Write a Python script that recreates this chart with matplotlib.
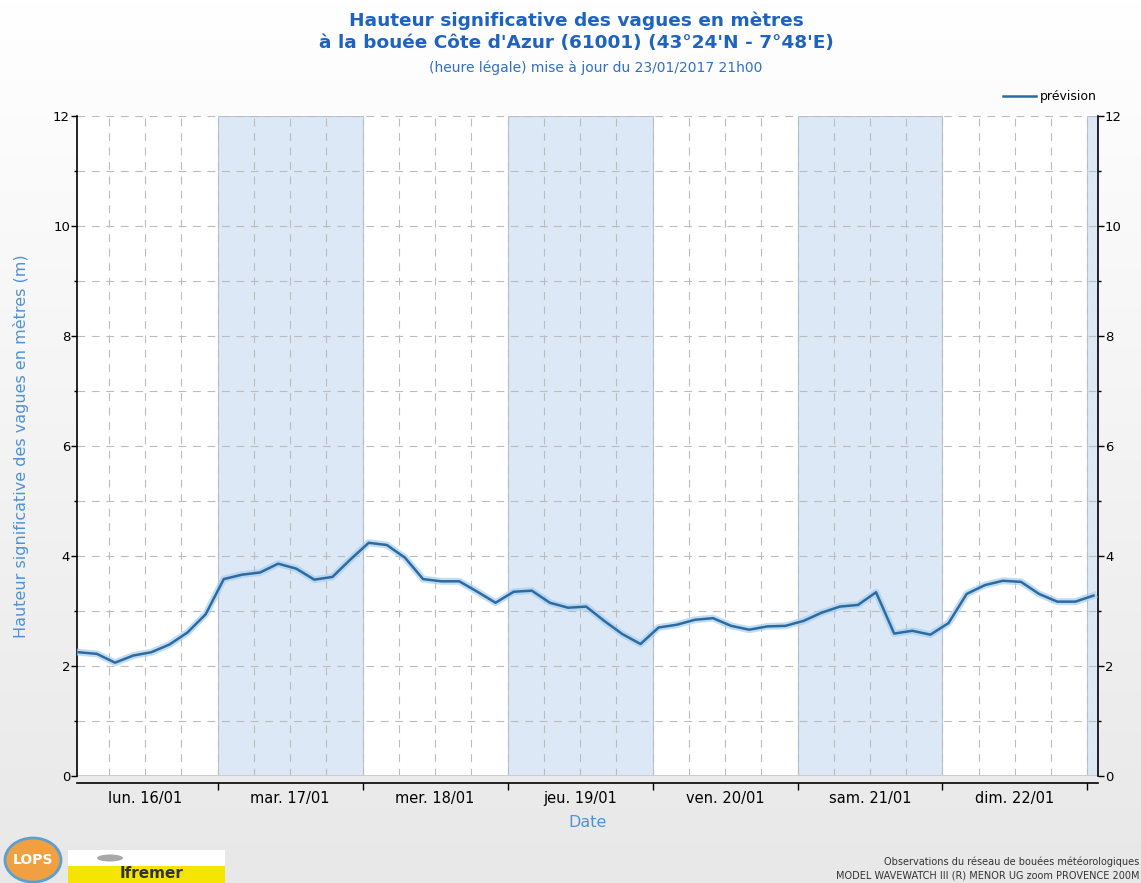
import numpy as np
import matplotlib
matplotlib.use("Agg")
import matplotlib.pyplot as plt
from matplotlib.patches import Rectangle, Ellipse
from datetime import datetime, timedelta

# Hauteur significative (m), une valeur toutes les 3 heures depuis le 16/01 01h00
hauteurs = [2.25, 2.22, 2.06, 2.19, 2.25, 2.39, 2.61, 2.94,
            3.58, 3.66, 3.70, 3.86, 3.77, 3.57, 3.62, 3.94,
            4.24, 4.20, 3.97, 3.58, 3.54, 3.54, 3.35, 3.15,
            3.35, 3.37, 3.15, 3.06, 3.08, 2.82, 2.58, 2.40,
            2.70, 2.75, 2.84, 2.87, 2.73, 2.66, 2.72, 2.73,
            2.82, 2.97, 3.08, 3.11, 3.34, 2.59, 2.64, 2.57,
            2.78, 3.31, 3.47, 3.55, 3.53, 3.31, 3.17, 3.17,
            3.28]
debut = datetime(2017, 1, 16, 1)
dates = [debut + timedelta(hours=3 * k) for k in range(len(hauteurs))]

jours = ["lun. 16/01", "mar. 17/01", "mer. 18/01", "jeu. 19/01",
         "ven. 20/01", "sam. 21/01", "dim. 22/01"]
jours_grises = [17, 19, 21, 23]

titre = "Hauteur significative des vagues en mètres\nà la bouée Côte d'Azur (61001) (43°24'N - 7°48'E)"
sous_titre = "(heure légale) mise à jour du 23/01/2017 21h00"

W, H = 1141, 883
fig = plt.figure(figsize=(W / 100, H / 100), dpi=100)

# fond en degrade blanc -> gris
bg = fig.add_axes([0, 0, 1, 1], zorder=-10)
grad = np.linspace(1.0, 0.91, 256).reshape(-1, 1)
bg.imshow(np.dstack([grad, grad, grad]), aspect="auto", extent=[0, 1, 0, 1])
bg.set_xlim(0, 1)
bg.set_ylim(0, 1)
bg.axis("off")

def fx(px):
    return px / W

def fy(py):
    return 1 - py / H

ax = fig.add_axes([fx(77), fy(776), fx(1098) - fx(77), fy(116) - fy(776)])
ax.set_facecolor("white")

x0 = datetime(2017, 1, 16, 0, 42)
x1 = datetime(2017, 1, 23, 1, 45)
ax.set_xlim(x0, x1)
ax.set_ylim(0, 12)

# bandes un jour sur deux
for j in jours_grises:
    d = datetime(2017, 1, j)
    ax.axvspan(d, min(d + timedelta(days=1), x1), facecolor="#dce8f6",
               edgecolor="#b4c4d8", lw=0.8, zorder=0)

# grille pointillee
grid_kw = dict(color="#bcbcbc", lw=0.8, dashes=(7, 6), zorder=1)
for v in range(1, 13):
    ax.axhline(v, **grid_kw)
t = datetime(2017, 1, 16, 6)
while t < x1:
    ax.axvline(t, **grid_kw)
    t += timedelta(hours=6)
ax.axhline(0, color="#cccccc", lw=1.4, zorder=2)

# courbe avec halo
ax.plot(dates, hauteurs, color="#a6cff0", lw=5, alpha=0.7,
        solid_joinstyle="round", zorder=3, label="_nolegend_")
ax.plot(dates, hauteurs, color="#2d6aa0", lw=1.8, zorder=4, label="prévision")

# axes
ax.spines["top"].set_visible(False)
ax.spines["bottom"].set_position(("outward", 5))
for s in ("bottom", "left", "right"):
    ax.spines[s].set_linewidth(1.2)

ax.set_yticks(range(0, 13, 2))
ax.set_yticks(range(1, 13, 2), minor=True)
ax.tick_params(axis="y", which="major", direction="out", length=4, width=1,
               left=True, right=True, labelleft=True, labelright=True,
               labelsize=9.5, pad=1)
ax.tick_params(axis="y", which="minor", direction="out", length=2, width=1,
               left=True, right=True)

noons = [datetime(2017, 1, 16 + k, 12) for k in range(len(jours))]
minuits = [datetime(2017, 1, 17 + k) for k in range(7)]
ax.set_xticks(noons)
ax.set_xticklabels(jours)
ax.set_xticks(minuits, minor=True)
ax.tick_params(axis="x", which="major", length=0, labelsize=10.5, pad=6)
ax.tick_params(axis="x", which="minor", direction="out", length=5, width=1)

ax.set_ylabel("Hauteur significative des vagues en mètres (m)", color="#4f92d6",
              fontsize=11.5, labelpad=17)
ax.set_xlabel("Date", color="#4f92d6", fontsize=11.5, labelpad=6)

ax.legend(loc="lower right", bbox_to_anchor=(fx(1097), fy(103)),
          bbox_transform=fig.transFigure, frameon=False, fontsize=9,
          handlelength=2.6, handletextpad=0.35, borderpad=0, borderaxespad=0)

# titres
fig.text(fx(576), fy(32), titre, ha="center", va="center", color="#1f63c0",
         fontsize=13.3, fontweight="bold", linespacing=1.3)
fig.text(fx(596), fy(68), sous_titre, ha="center", va="center", color="#2f6fc8",
         fontsize=10)

# pied de page
fig.text(fx(1139), fy(862), "Observations du réseau de bouées météorologiques",
         ha="right", va="center", fontsize=7, color="#333333")
fig.text(fx(1139), fy(875), "MODEL WAVEWATCH III (R) MENOR UG zoom PROVENCE 200M",
         ha="right", va="center", fontsize=7, color="#333333")

# logos simplifies
logo = fig.add_axes([0, 0, 1, 1], zorder=5)
logo.set_xlim(0, W)
logo.set_ylim(H, 0)
logo.axis("off")
logo.add_patch(Rectangle((68, 850), 157, 33, facecolor="white", edgecolor="none"))
logo.add_patch(Rectangle((68, 866), 157, 17, facecolor="#f5e400", edgecolor="none"))
logo.add_patch(Ellipse((110, 858), 26, 7, facecolor="#a8a8a8", edgecolor="none"))
logo.add_patch(Ellipse((33, 860), 56, 44, facecolor="#f0a040", edgecolor="#5aa0d0", lw=2))
logo.text(33, 860, "LOPS", ha="center", va="center", color="white",
          fontsize=10, fontweight="bold")
logo.text(152, 873, "Ifremer", ha="center", va="center", color="#333333",
          fontsize=11, fontweight="bold")

fig.savefig("out.png", dpi=100)
